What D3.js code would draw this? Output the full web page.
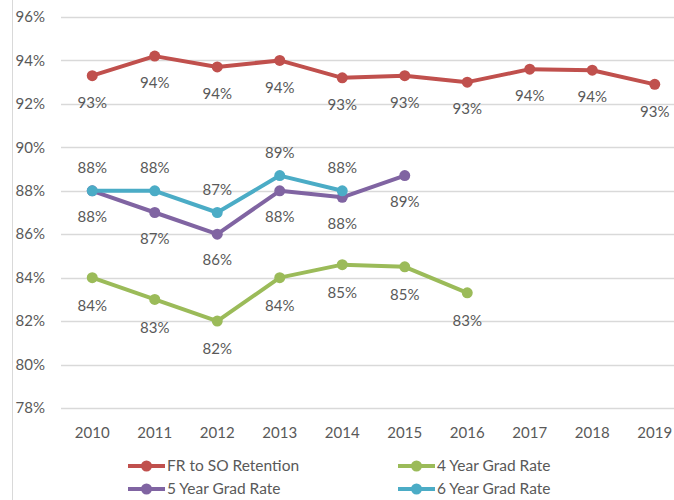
<!DOCTYPE html>
<html>
<head>
<meta charset="utf-8">
<script src="https://cdn.jsdelivr.net/npm/d3@7"></script>
<style>
  html, body { margin: 0; padding: 0; background: #fff; }
  svg { display: block; font-family: Lato, "Noto Sans", sans-serif; }
</style>
</head>
<body>
<svg id="chart" width="674" height="500"></svg>
<script>
// Cohort years on the x axis
const years = ["2010", "2011", "2012", "2013", "2014", "2015", "2016", "2017", "2018", "2019"];

// Rates in percent (null = not yet available)
const retention = [93.3, 94.2, 93.7, 94.0, 93.2, 93.3, 93.0, 93.6, 93.55, 92.9];
const grad4 = [84.0, 83.0, 82.0, 84.0, 84.6, 84.5, 83.3, null, null, null];
const grad5 = [88.0, 87.0, 86.0, 88.0, 87.7, 88.7, null, null, null, null];
const grad6 = [88.0, 88.0, 87.0, 88.7, 88.0, null, null, null, null, null];

// Y axis ticks
const yTicks = [78, 80, 82, 84, 86, 88, 90, 92, 94, 96];

const series = [
  { name: "FR to SO Retention", values: retention, color: "#C0504D", labelDy: 27 },
  { name: "4 Year Grad Rate", values: grad4, color: "#9BBB59", labelDy: 28 },
  { name: "5 Year Grad Rate", values: grad5, color: "#8064A2", labelDy: 26 },
  { name: "6 Year Grad Rate", values: grad6, color: "#4BACC6", labelDy: -23 }
];

const svg = d3.select("#chart");
const textColor = "#595959";
const fontSize = 15;

const x = d3.scaleBand().domain(years).range([61, 686]);
const y = d3.scaleLinear().domain([78, 96]).range([408, 17]);
const cx = d => x(d) + x.bandwidth() / 2;

// outer frame edge on the left
svg.append("line")
  .attr("x1", 12.5).attr("x2", 12.5).attr("y1", 0).attr("y2", 500)
  .attr("stroke", "#d9d9d9").attr("stroke-width", 1);

// horizontal gridlines
svg.append("g").selectAll("line").data(yTicks).join("line")
  .attr("x1", 61).attr("x2", 686)
  .attr("y1", d => Math.round(y(d)) + 0.5).attr("y2", d => Math.round(y(d)) + 0.5)
  .attr("stroke", "#d9d9d9").attr("stroke-width", 1.5);

// y tick labels
svg.append("g").selectAll("text").data(yTicks).join("text")
  .attr("x", 45).attr("y", d => y(d)).attr("dy", "0.35em")
  .attr("text-anchor", "end").attr("fill", textColor)
  .attr("font-size", fontSize).text(d => d + "%");

// x tick labels
svg.append("g").selectAll("text").data(years).join("text")
  .attr("x", d => cx(d)).attr("y", 433).attr("dy", "0.35em")
  .attr("text-anchor", "middle").attr("fill", textColor)
  .attr("font-size", fontSize).text(d => d);

const line = d3.line()
  .defined(d => d.v !== null)
  .x(d => cx(d.year)).y(d => y(d.v));

series.forEach(s => {
  const pts = years.map((yr, i) => ({ year: yr, v: s.values[i] }));
  const valid = pts.filter(d => d.v !== null);
  const g = svg.append("g");
  g.append("path").datum(pts)
    .attr("d", line).attr("fill", "none")
    .attr("stroke", s.color).attr("stroke-width", 4)
    .attr("stroke-linejoin", "round").attr("stroke-linecap", "round");
  g.selectAll("circle").data(valid).join("circle")
    .attr("cx", d => cx(d.year)).attr("cy", d => y(d.v)).attr("r", 5.5)
    .attr("fill", s.color);
  g.selectAll("text").data(valid).join("text")
    .attr("x", d => cx(d.year)).attr("y", d => y(d.v) + s.labelDy).attr("dy", "0.35em")
    .attr("text-anchor", "middle").attr("fill", textColor)
    .attr("font-size", fontSize).text(d => Math.round(d.v) + "%");
});

// legend
const legendItems = [
  { s: series[0], x: 128, y: 466 },
  { s: series[1], x: 398, y: 466 },
  { s: series[2], x: 128, y: 489 },
  { s: series[3], x: 398, y: 489 }
];
const lg = svg.append("g").selectAll("g").data(legendItems).join("g")
  .attr("transform", d => `translate(${d.x},${d.y})`);
lg.append("line").attr("x1", 0).attr("x2", 37).attr("y1", 0).attr("y2", 0)
  .attr("stroke", d => d.s.color).attr("stroke-width", 4);
lg.append("circle").attr("cx", 18.5).attr("cy", 0).attr("r", 5.5)
  .attr("fill", d => d.s.color);
lg.append("text").attr("x", 39).attr("y", 0).attr("dy", "0.35em")
  .attr("fill", textColor).attr("font-size", 15.5).text(d => d.s.name);
</script>
</body>
</html>
